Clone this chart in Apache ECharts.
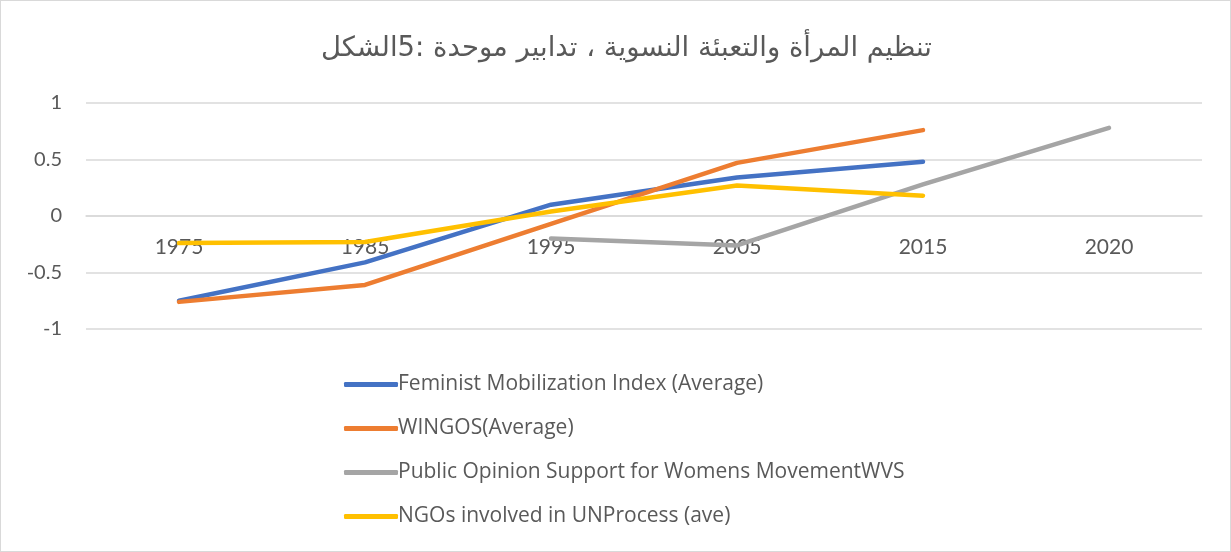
<!DOCTYPE html>
<html>
<head>
<meta charset="utf-8">
<script src="https://cdn.jsdelivr.net/npm/echarts@6/dist/echarts.min.js"></script>
<style>
  html, body { margin: 0; padding: 0; background: #fff; }
  #chart { width: 1229px; height: 550px; border: 1px solid #d9d9d9; }
</style>
</head>
<body>
<div id="chart"></div>
<script>
// ===== data =====
const years = ['1975', '1985', '1995', '2005', '2015', '2020'];
const feministIndex = [-0.75, -0.41, 0.10, 0.34, 0.48, null];
const wingos = [-0.76, -0.61, -0.07, 0.47, 0.76, null];
const publicOpinion = [null, null, -0.20, -0.26, 0.28, 0.78];
const ngosUN = [-0.24, -0.23, 0.04, 0.27, 0.18, null];
const seriesNames = [
  'Feminist Mobilization Index (Average)',
  'WINGOS(Average)',
  'Public Opinion Support for Womens MovementWVS',
  'NGOs involved in UNProcess (ave)'
];
const colors = ['#4472C4', '#ED7D31', '#A5A5A5', '#FFC000'];

const chart = echarts.init(document.getElementById('chart'));

function lineSeries(name, data, color) {
  return {
    name: name,
    type: 'line',
    data: data,
    showSymbol: false,
    symbol: 'none',
    lineStyle: { width: 4.5, color: color, cap: 'round', join: 'round' },
    itemStyle: { color: color }
  };
}

// plot area: value axis from -1 (bottom) to 1 (top)
const gridTop = 102, gridBottom = 222, chartH = 550;
const plotH = chartH - gridTop - gridBottom;
// category axis sits on the zero line, half way up
const zeroShift = -plotH / 2;

chart.setOption({
  color: colors,
  animation: false,
  textStyle: { fontFamily: 'Lato, "DejaVu Sans", sans-serif', color: '#595959' },
  title: {
    text: 'تنظيم المرأة والتعبئة النسوية ، تدابير موحدة :5الشكل',
    left: 315,
    top: 29,
    textStyle: {
      fontFamily: '"DejaVu Sans", sans-serif',
      fontSize: 27.5,
      fontWeight: 'normal',
      color: '#595959'
    }
  },
  grid: { left: 85, right: 28, top: gridTop, bottom: gridBottom, containLabel: false },
  legend: {
    orient: 'vertical',
    left: 338,
    top: 368,
    itemGap: 23,
    itemWidth: 54,
    itemHeight: 5,
    icon: 'roundRect',
    data: seriesNames,
    textStyle: {
      fontFamily: '"Open Sans", sans-serif',
      fontSize: 21,
      color: '#595959',
      padding: [0, 0, 0, -5]
    }
  },
  xAxis: {
    type: 'category',
    data: years,
    boundaryGap: true,
    offset: zeroShift,
    axisLine: { show: true, onZero: false, lineStyle: { color: '#d9d9d9', width: 1.5 } },
    axisTick: { show: false },
    axisLabel: { fontSize: 21, color: '#595959', margin: 21 },
    splitLine: { show: false }
  },
  yAxis: {
    type: 'value',
    min: -1,
    max: 1,
    interval: 0.5,
    axisLine: { show: false },
    axisTick: { show: false },
    axisLabel: { fontSize: 20, color: '#595959', margin: 24 },
    splitLine: { lineStyle: { color: '#d9d9d9', width: 1.5 } }
  },
  series: [
    lineSeries(seriesNames[0], feministIndex, colors[0]),
    lineSeries(seriesNames[1], wingos, colors[1]),
    lineSeries(seriesNames[2], publicOpinion, colors[2]),
    lineSeries(seriesNames[3], ngosUN, colors[3])
  ]
});
</script>
</body>
</html>
